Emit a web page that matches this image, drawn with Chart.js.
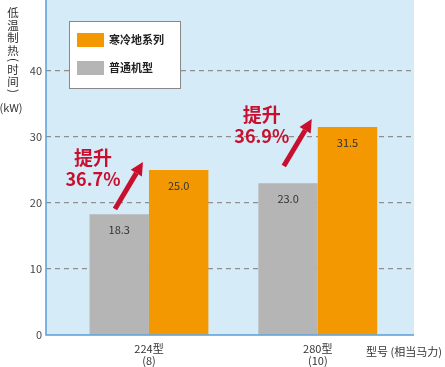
<!DOCTYPE html>
<html lang="zh">

<head>
    <meta charset="UTF-8">
    <title>低温制热</title>
    <script src="https://cdn.jsdelivr.net/npm/chart.js@4.4.0/dist/chart.umd.min.js"></script>
    <style>
        html, body { margin: 0; padding: 0; background: #fff; }
        #wrap { width: 445px; height: 367px; }
    </style>
</head>

<body>
    <div id="wrap"><canvas id="chart" width="445" height="367"></canvas></div>
    <script>
        // data
        const models = [['224型', '(8)'], ['280型', '(10)']];
        const coldSeries = [25.0, 31.5];     // 寒冷地系列
        const normalSeries = [18.3, 23.0];   // 普通机型
        const gains = ['36.7%', '36.9%'];
        const yTicks = [0, 10, 20, 30, 40];
        const yTitle = ['低', '温', '制', '热', '(', '时', '间', ')'];

        const RED = '#c8102e',
            FONT = '"Noto Sans CJK SC", "Noto Sans", sans-serif';

        // background, axis lines, legend, notes
        const decor = {
            id: 'decor',
            beforeDraw(chart) {
                const { ctx, chartArea: a } = chart;
                ctx.save();
                ctx.fillStyle = '#d5ebf8';
                ctx.fillRect(a.left, a.top, a.right - a.left, a.bottom - a.top);
                ctx.restore();
            },
            afterDraw(chart) {
                const { ctx, chartArea: a } = chart;
                ctx.save();
                // axis lines
                ctx.strokeStyle = '#5a9fd6';
                ctx.lineWidth = 1.5;
                ctx.beginPath();
                ctx.moveTo(a.left, a.top);
                ctx.lineTo(a.left, a.bottom);
                ctx.lineTo(a.right, a.bottom);
                ctx.stroke();

                // y title, vertical
                ctx.fillStyle = '#333';
                ctx.font = '11.5px ' + FONT;
                ctx.textAlign = 'center';
                ctx.textBaseline = 'middle';
                const ys = [13, 25.5, 38, 50.5, 60, 70, 82, 91];
                yTitle.forEach((c, i) => {
                    if (c === '(' || c === ')') {
                        ctx.save();
                        ctx.translate(13, ys[i]);
                        ctx.rotate(Math.PI / 2);
                        ctx.fillText(c, 0, 0);
                        ctx.restore();
                    } else {
                        ctx.fillText(c, 13, ys[i]);
                    }
                });
                ctx.font = '11px ' + FONT;
                ctx.fillText('(kW)', 11, 108);

                // x title
                ctx.font = '11px ' + FONT;
                ctx.textAlign = 'left';
                ctx.fillText('型号 (相当马力)', 366, 352);

                // legend
                ctx.fillStyle = '#fff';
                ctx.fillRect(69, 21, 111, 67);
                ctx.strokeStyle = '#888';
                ctx.lineWidth = 1;
                ctx.strokeRect(69.5, 21.5, 111, 67);
                const items = [chart.data.datasets[1], chart.data.datasets[0]];
                items.forEach((d, i) => {
                    const y = 33 + i * 28;
                    ctx.fillStyle = d.backgroundColor;
                    ctx.fillRect(77, y, 27, 14);
                    ctx.fillStyle = '#222';
                    ctx.font = 'bold 11px ' + FONT;
                    ctx.fillText(d.label, 109, y + 7);
                });

                // arrows + gain labels
                const cold = chart.getDatasetMeta(1).data;
                gains.forEach((g, i) => {
                    const bar = cold[i],
                        tipX = bar.x - bar.width / 2 - 6,
                        tipY = bar.y - 8,
                        tailX = tipX - 28,
                        tailY = tipY + 47,
                        ang = Math.atan2(tipY - tailY, tipX - tailX),
                        baseX = tipX - 13 * Math.cos(ang),
                        baseY = tipY - 13 * Math.sin(ang);
                    ctx.strokeStyle = RED;
                    ctx.fillStyle = RED;
                    ctx.lineWidth = 5;
                    ctx.beginPath();
                    ctx.moveTo(tailX, tailY);
                    ctx.lineTo(baseX, baseY);
                    ctx.stroke();
                    ctx.beginPath();
                    ctx.moveTo(tipX, tipY);
                    ctx.lineTo(baseX + 6.5 * Math.sin(ang), baseY - 6.5 * Math.cos(ang));
                    ctx.lineTo(baseX - 6.5 * Math.sin(ang), baseY + 6.5 * Math.cos(ang));
                    ctx.closePath();
                    ctx.fill();

                    ctx.textAlign = 'center';
                    ctx.font = 'bold 19px ' + FONT;
                    ctx.fillText('提升', tipX - 50, tipY - 4);
                    ctx.font = 'bold 18px ' + FONT;
                    ctx.fillText(g, tipX - 50, tipY + 17);
                });

                // values inside bars
                ctx.fillStyle = '#333';
                ctx.font = '11px ' + FONT;
                ctx.textAlign = 'center';
                chart.data.datasets.forEach((d, di) => {
                    chart.getDatasetMeta(di).data.forEach((b, i) => {
                        ctx.fillText(d.data[i].y.toFixed(1), b.x, b.y + 16);
                    });
                });
                ctx.restore();
            }
        };

        const noPad = s => {
            s.paddingTop = 0;
            s.paddingBottom = 0;
            s.paddingLeft = 0;
            s.paddingRight = 0;
        };

        const ctx = document.getElementById('chart').getContext('2d');
        new Chart(ctx, {
            type: 'bar',
            data: {
                datasets: [{
                    label: '普通机型',
                    data: normalSeries.map((v, i) => ({ x: i, y: v })),
                    backgroundColor: '#b5b5b5'
                }, {
                    label: '寒冷地系列',
                    data: coldSeries.map((v, i) => ({ x: i, y: v })),
                    backgroundColor: '#f39800'
                }]
            },
            options: {
                responsive: false,
                animation: false,
                layout: { padding: { left: 0, right: 31, top: 0, bottom: 0 } },
                plugins: { legend: { display: false }, tooltip: { enabled: false } },
                datasets: { bar: { categoryPercentage: 0.704, barPercentage: 1 } },
                scales: {
                    x: {
                        type: 'linear',
                        offset: false,
                        min: -0.61,
                        max: 1.57,
                        afterBuildTicks(s) { s.ticks = [{ value: 0 }, { value: 1 }]; },
                        afterFit(s) { s.height = 32; noPad(s); },
                        grid: { display: false, drawTicks: false },
                        border: { display: false },
                        ticks: {
                            padding: 8,
                            color: '#333',
                            font: { size: 11, family: FONT, lineHeight: 1.1 },
                            callback: v => models[v]
                        }
                    },
                    y: {
                        min: 0,
                        max: 50.75,
                        afterBuildTicks(s) { s.ticks = yTicks.map(v => ({ value: v })); },
                        afterFit(s) { s.width = 46; noPad(s); },
                        border: { display: false, dash: [5, 4] },
                        grid: {
                            color: c => c.tick.value === 0 ? 'rgba(0,0,0,0)' : '#8f8f8f',
                            lineWidth: 1.2,
                            drawTicks: false
                        },
                        ticks: {
                            padding: 4,
                            color: '#444',
                            font: { size: 11, family: FONT },
                            callback: v => v
                        }
                    }
                }
            },
            plugins: [decor]
        });
    </script>
</body>

</html>
